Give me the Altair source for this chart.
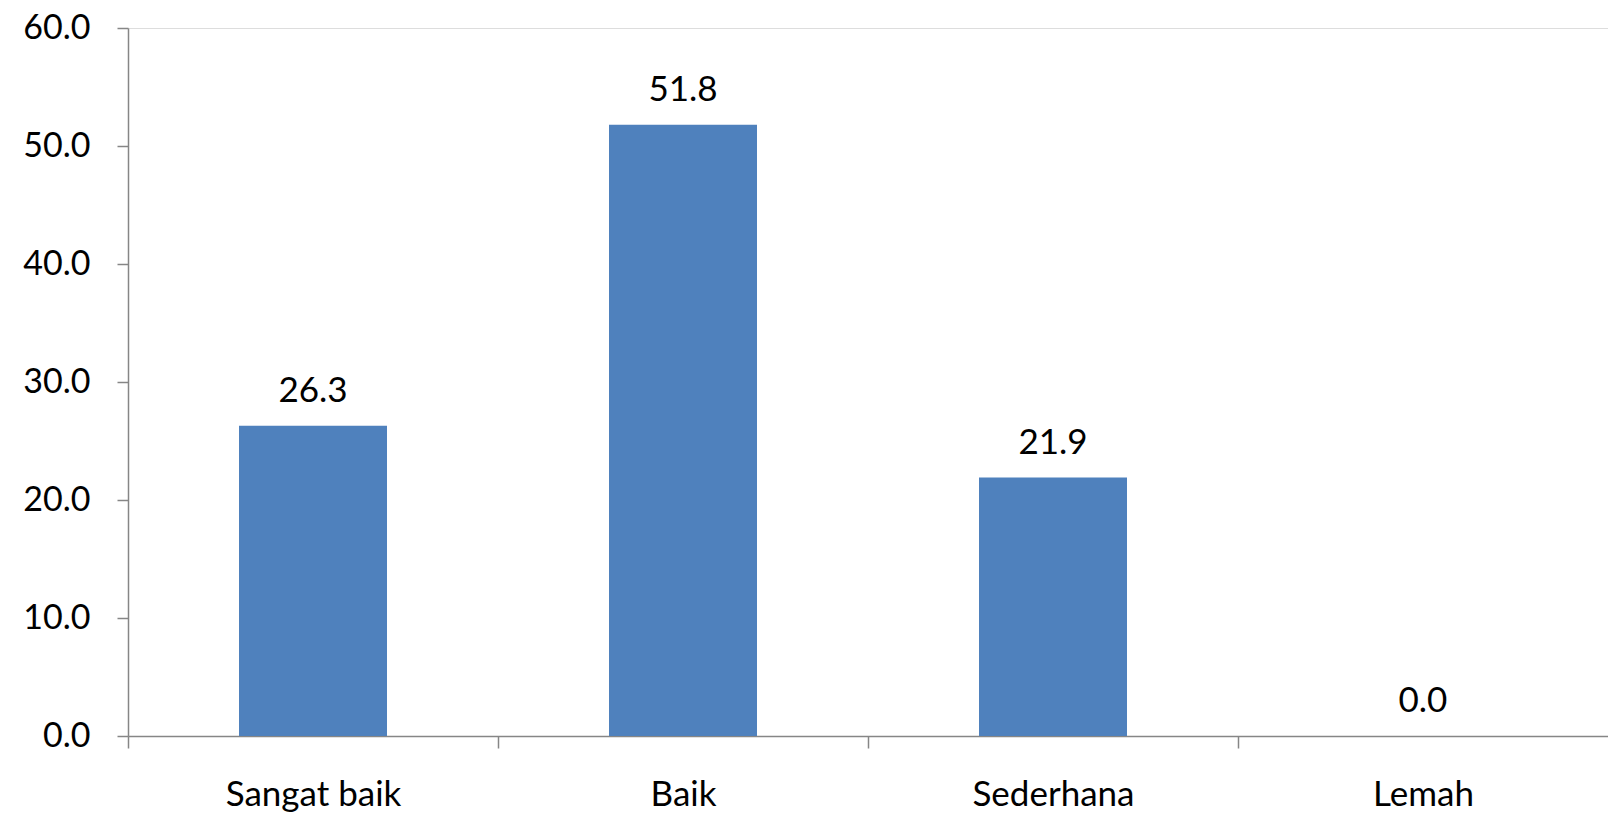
import altair as alt
import pandas as pd

categories = ["Sangat baik", "Baik", "Sederhana", "Lemah"]
values = [26.3, 51.8, 21.9, 0.0]
y_ticks = [0, 10, 20, 30, 40, 50, 60]

df = pd.DataFrame({"cat": categories, "val": values})
FONT = "Lato"
W = 1480

x = alt.X("cat:N", sort=categories, title=None,
          scale=alt.Scale(paddingInner=0.6, paddingOuter=0.3),
          axis=alt.Axis(labelAngle=0, tickOffset=-W / 8, labelOffset=W / 8,
                        tickSize=12, labelPadding=29, domainColor="#868686",
                        tickColor="#868686", labelColor="#000000",
                        labelFontSize=35, labelFont=FONT, domainWidth=1.5, tickWidth=1.5))
y = alt.Y("val:Q", title=None,
          scale=alt.Scale(domain=[0, 60], nice=False),
          axis=alt.Axis(values=y_ticks, format=".1f", grid=False, tickSize=11,
                        labelPadding=27, domainColor="#868686", tickColor="#868686",
                        labelColor="#000000", labelFontSize=34, labelFont=FONT,
                        domainWidth=1.5, tickWidth=1.5))

bars = alt.Chart(df).mark_bar(color="#4F81BD").encode(x=x, y=y)
labels = alt.Chart(df).mark_text(baseline="alphabetic", dy=-24, fontSize=35,
                                 font=FONT, color="#000000").encode(
    x=alt.X("cat:N", sort=categories),
    y="val:Q",
    text=alt.Text("val:Q", format=".1f"))

chart = (bars + labels).properties(
    width=W, height=708,
    autosize=alt.AutoSizeParams(type="none"),
    padding={"left": 120, "top": 20, "right": 0, "bottom": 78},
).configure_view(stroke=None).configure(background="white")

chart.save("out.html", embed_options={"renderer": "svg", "actions": False})
